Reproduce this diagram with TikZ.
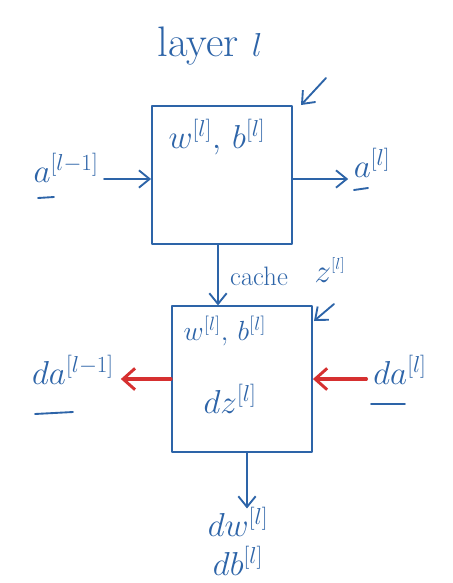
\documentclass[tikz,border=0pt]{standalone}
\usetikzlibrary{arrows.meta}
\definecolor{pen}{RGB}{45,100,168}
\definecolor{redpen}{RGB}{214,48,48}
\begin{document}
\begin{tikzpicture}[x=0.75pt,y=-0.75pt,
  ink/.style={draw=pen, line width=1.4pt, line cap=round, line join=round},
  inkarrow/.style={ink, -{Straight Barb[length=8pt,width=13pt,line width=1.4pt]}},
  redarrow/.style={draw=redpen, line width=2.4pt, line cap=round,
      -{Straight Barb[length=9pt,width=16pt,line width=2.2pt]}},
  layerbox/.style={ink, rectangle, inner sep=0pt},
  lbl/.style={text=pen, inner sep=1pt},
  big/.style={lbl, font=\fontsize{32}{34}\selectfont},
  mid/.style={lbl, font=\fontsize{25}{27}\selectfont},
  small/.style={lbl, font=\fontsize{20}{22}\selectfont}]
\useasboundingbox (0,0) rectangle (453,583);
\fill[white] (0,0) rectangle (453,583);

% title
\node[lbl, font=\fontsize{32}{34}\selectfont] (title) at (210,46) {layer $l$};

% forward box
\node[layerbox, minimum width=105pt, minimum height=103pt] (box1) at (222,175) {};
\node[mid] (wb1) at (217,137) {$w^{[l]},\,b^{[l]}$};

% backward box
\node[layerbox, minimum width=105pt, minimum height=109pt] (box2) at (242,379) {};
\node[small] (wb2) at (225,331) {$w^{[l]},\,b^{[l]}$};
\node[mid] (dz) at (230,399) {$dz^{[l]}$};

% forward labels
\node[big] (aprev) at (66,168) {$a^{\scriptscriptstyle[l-1]}$};
\node[big] (anext) at (372,163) {$a^{\scriptscriptstyle[l]}$};
\coordinate (yin) at (0,179);
\draw[inkarrow, shorten <=3pt] (aprev.east |- yin) -- (box1.west |- yin);
\draw[inkarrow] (box1.east |- yin) -- ([xshift=-3pt]anext.west |- yin);
\draw[ink] (38,198) -- (54,197);
\draw[ink] (354,190) -- (368,188);

% cache
\coordinate (cx) at (218,0);
\draw[inkarrow] (box1.south -| cx) -- (box2.north -| cx);
\node[small] (cache) at (259,276) {cache};
\node[mid] (zc) at (330,270) {$z^{\scriptscriptstyle[l]}$};

% small pointer arrows
\coordinate (p1s) at (326,78);
\coordinate (p1e) at (301,105);
\draw[inkarrow] (p1s) -- (p1e);
\coordinate (p2s) at (334,304);
\coordinate (p2e) at (314,321);
\draw[inkarrow] (p2s) -- (p2e);

% backward labels
\node[big] (dain) at (400,370) {$da^{\scriptscriptstyle[l]}$};
\node[big] (daout) at (73,370) {$da^{\scriptscriptstyle[l-1]}$};
\coordinate (yb) at (0,379);
\draw[redarrow, shorten <=4pt] (dain.west |- yb) -- (box2.east |- yb);
\draw[redarrow, shorten >=4pt] (box2.west |- yb) -- (daout.east |- yb);
\draw[ink] (371,404) -- (405,404);
\draw[ink] (35,414) -- (73,412);

% outputs
\node[big] (dw) at (238,522) {$dw^{\scriptscriptstyle[l]}$};
\node[big] (db) at (238,561) {$db^{\scriptscriptstyle[l]}$};
\coordinate (ox) at (247,0);
\draw[inkarrow] (box2.south -| ox) -- ([yshift=-2pt]dw.north -| ox);
\end{tikzpicture}
\end{document}
